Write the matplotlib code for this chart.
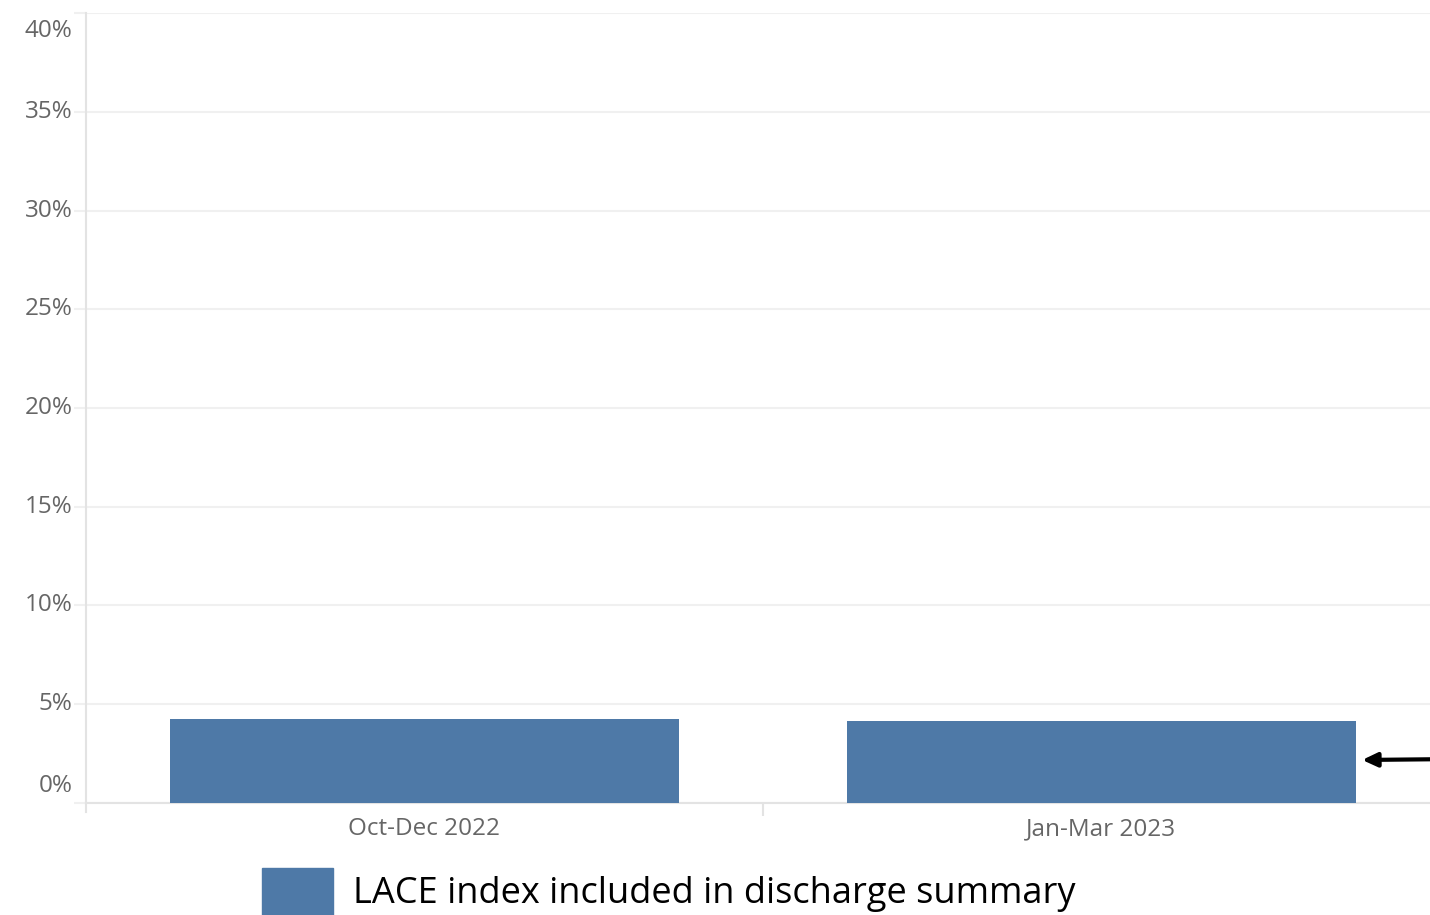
import matplotlib
matplotlib.use("Agg")
import matplotlib.pyplot as plt
from matplotlib.patches import Patch

# quarterly share of discharges with LACE index in summary (%)
quarters = ["Oct-Dec 2022", "Jan-Mar 2023"]
lace_pct = [4.25, 4.15]
y_ticks = [0, 5, 10, 15, 20, 25, 30, 35, 40]
legend_label = "LACE index included in discharge summary"

BAR_COLOR = "#4e79a7"
GRID_COLOR = "#f0f0f0"
AXIS_COLOR = "#e3e3e3"
TICK_TEXT = "#666666"
TICK_FONT = "Open Sans"
TICK_SIZE = 17.5

W, H = 1430, 915
fig = plt.figure(figsize=(W / 100, H / 100), dpi=100)
ax = fig.add_axes([86 / W, 112.4 / H, (1440 - 86) / W, 789.3 / H])

x = range(len(quarters))
ax.bar(x, lace_pct, width=0.753, color=BAR_COLOR, zorder=3)

ax.set_xlim(-0.5, len(quarters) - 0.5)
ax.set_ylim(0, 40)
ax.set_yticks(y_ticks)
ax.set_yticklabels([""] * len(y_ticks))
ax.grid(axis="y", color=GRID_COLOR, linewidth=1.5, zorder=0)
ax.tick_params(axis="y", length=9, width=1.5, color=GRID_COLOR)

# y labels: end labels pulled inside the axis range
for v in y_ticks:
    dy = 0
    if v == y_ticks[0]:
        dy = 12
    elif v == y_ticks[-1]:
        dy = -12.5
    ax.annotate(f"{v}%", xy=(0, v), xycoords=("axes fraction", "data"),
                xytext=(-9.5, dy), textcoords="offset points",
                ha="right", va="center", fontsize=TICK_SIZE, color=TICK_TEXT,
                family=TICK_FONT, annotation_clip=False)

# category labels centred in their bands, divider tick between bands
ax.set_xticks([0.5])
ax.set_xticklabels([""])
ax.tick_params(axis="x", length=9, width=1.5, color=AXIS_COLOR)
for i, q in enumerate(quarters):
    ax.text(i, -0.75, q, ha="center", va="top", fontsize=TICK_SIZE,
            color=TICK_TEXT, family=TICK_FONT)

for side in ("top", "right"):
    ax.spines[side].set_visible(False)
for side in ("left", "bottom"):
    ax.spines[side].set_color(AXIS_COLOR)
    ax.spines[side].set_linewidth(1.5)
ax.spines["left"].set_bounds(-0.5, 40)

# arrow pointing at the latest quarter
ax.annotate("", xy=(1.385, 2.16), xytext=(1.5, 2.2),
            arrowprops=dict(arrowstyle="-|>,head_length=0.9,head_width=0.42",
                            color="black", lw=3, shrinkA=0, shrinkB=0),
            annotation_clip=False)

fig.legend(handles=[Patch(color=BAR_COLOR, label=legend_label)],
           loc="lower left", bbox_to_anchor=(262 / W, 0), frameon=False,
           prop={"family": "Open Sans", "size": 26}, handlelength=1.97,
           handleheight=1.63, handletextpad=0.55, borderpad=0,
           borderaxespad=0)

fig.savefig("out.png", dpi=100, facecolor="white")
